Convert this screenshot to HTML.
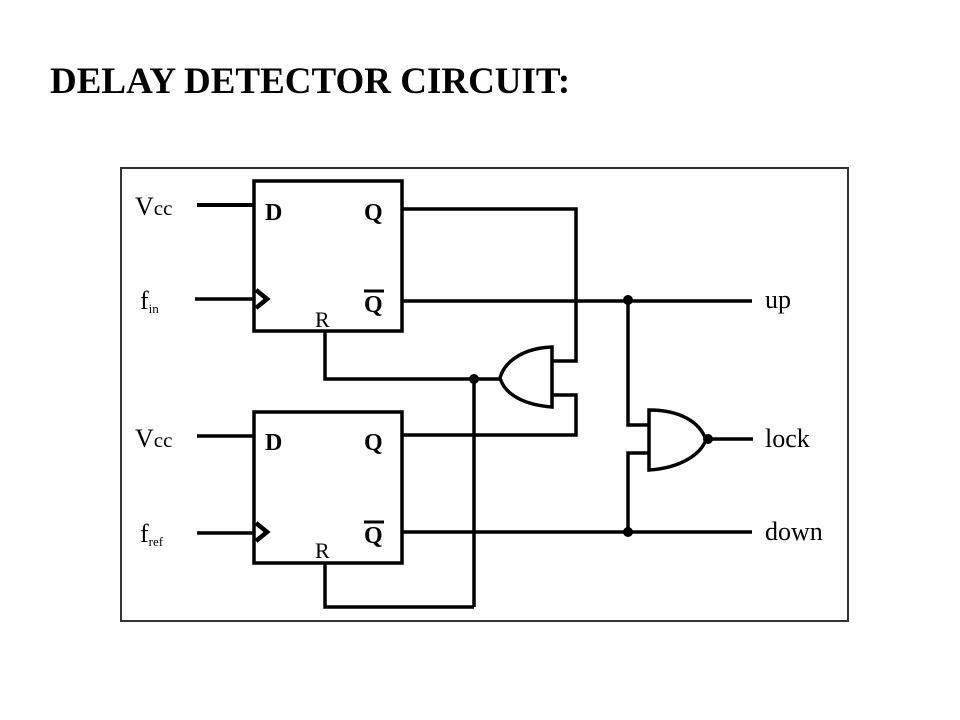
<!DOCTYPE html>
<html><head><style>
body{margin:0;background:#fff;width:960px;height:720px;overflow:hidden;}
.t{position:absolute;left:50px;top:60px;font:bold 37px "Liberation Serif",serif;color:#000;}
</style></head><body>
<div class="t">DELAY DETECTOR CIRCUIT:</div>
<svg width="960" height="720" style="position:absolute;left:0;top:0" font-family="Liberation Serif, serif">
<rect x="121" y="168" width="727" height="453" fill="none" stroke="#333" stroke-width="2"/>
<g fill="none" stroke="#000" stroke-width="3.5">
<rect x="254" y="181" width="148" height="150"/>
<rect x="254" y="412" width="148" height="151"/>
<polyline points="256,290 267,299 256,308" stroke-width="4.5"/>
<polyline points="256,523 267,532 256,541" stroke-width="4.5"/>
<line x1="197" y1="205" x2="254" y2="205" stroke-width="4"/>
<line x1="195" y1="299" x2="254" y2="299"/>
<line x1="197" y1="436" x2="254" y2="436"/>
<line x1="197" y1="533" x2="254" y2="533"/>
<polyline points="402,209 576,209 576,361 552,361"/>
<line x1="402" y1="301" x2="752" y2="301"/>
<polyline points="325,331 325,379 500,379"/>
<polyline points="402,435 576,435 576,395 552,395"/>
<line x1="474" y1="379" x2="474" y2="607"/>
<polyline points="325,563 325,607 474,607"/>
<line x1="402" y1="532" x2="752" y2="532"/>
<polyline points="628,301 628,425 649,425"/>
<polyline points="628,532 628,453 649,453"/>
<path d="M552,347 L552,407 C525,405 505,395 500,378 C505,360 525,348 552,347 Z"/>
<path d="M649,410 L649,470 C680,468 700,455 706,440 C700,422 680,410 649,410 Z"/>
<line x1="707" y1="439" x2="753" y2="439"/>
</g>
<g fill="#000">
<circle cx="628" cy="300" r="5"/><circle cx="628" cy="532" r="5"/>
<circle cx="474" cy="379" r="5"/><circle cx="708" cy="439" r="5"/>
</g>
<g font-size="26" fill="#000">
<text x="135" y="215">V<tspan font-size="21">cc</tspan></text>
<text x="135" y="447">V<tspan font-size="21">cc</tspan></text>
<text x="140" y="309">f<tspan font-size="13" dy="4">in</tspan></text>
<text x="140" y="542">f<tspan font-size="13" dy="4">ref</tspan></text>
<text x="265" y="220" font-weight="bold" font-size="24">D</text>
<text x="265" y="450" font-weight="bold" font-size="24">D</text>
<text x="364" y="220" font-weight="bold" font-size="24">Q</text>
<text x="364" y="450" font-weight="bold" font-size="24">Q</text>
<text x="364" y="312" font-weight="bold" font-size="24">Q</text>
<text x="364" y="543" font-weight="bold" font-size="24">Q</text>
<text x="315" y="327" font-size="22">R</text>
<text x="315" y="558" font-size="22">R</text>
<text x="765" y="308">up</text>
<text x="765" y="447">lock</text>
<text x="765" y="540">down</text>
</g>
<g stroke="#000" stroke-width="3">
<line x1="364" y1="291" x2="384" y2="291"/>
<line x1="364" y1="522" x2="384" y2="522"/>
</g>
</svg>
</body></html>
